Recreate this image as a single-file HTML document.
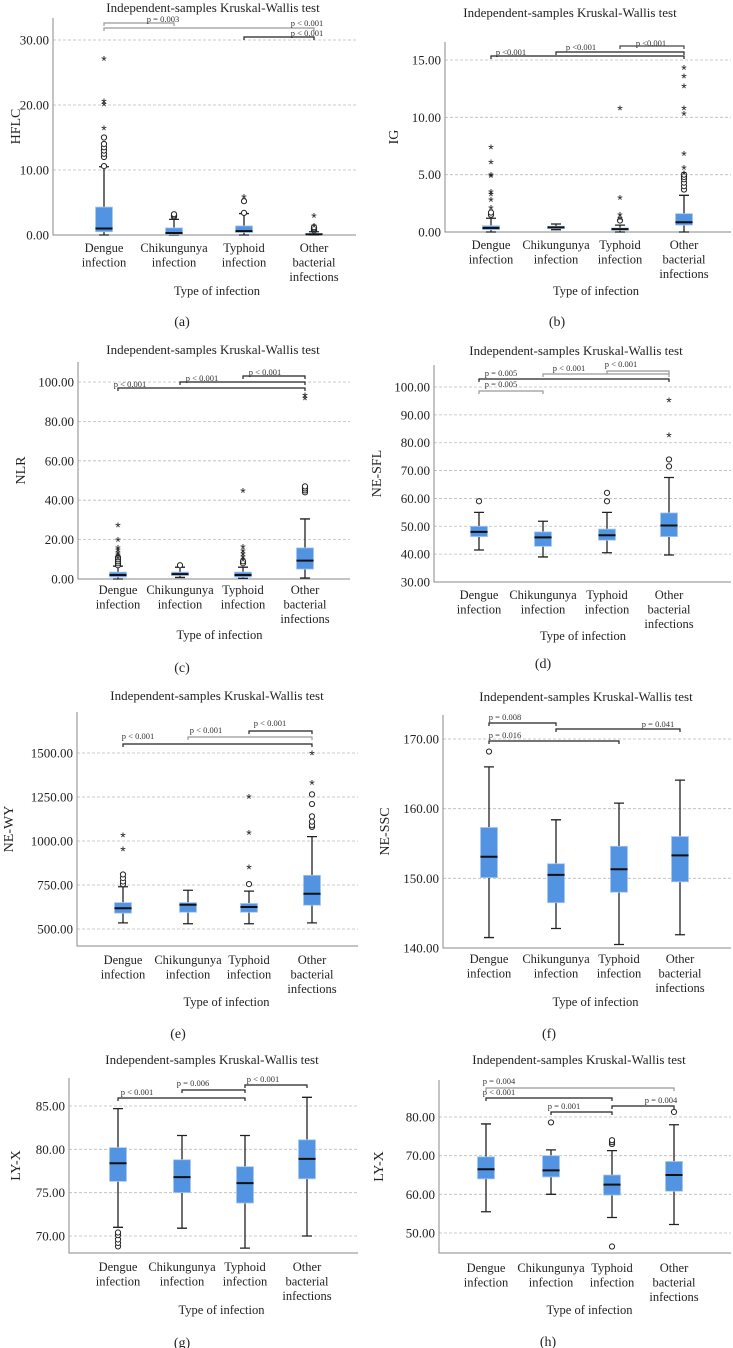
<!DOCTYPE html>
<html><head><meta charset="utf-8"><style>
html,body{margin:0;padding:0;background:#fff;}
svg{display:block;font-family:"Liberation Serif",serif;}
</style></head><body>
<svg id="fig" width="733" height="1348" viewBox="0 0 733 1348"></svg>
<script>
// ---- data: categories ----
const categories = [["Dengue","infection"],["Chikungunya","infection"],["Typhoid","infection"],["Other","bacterial","infections"]];
// (a) HFLC
const aLow=[0,0,0,0], aQ1=[0.5,0.1,0.4,0.0], aMed=[1.0,0.3,0.6,0.1], aQ3=[4.3,1.1,1.4,0.25], aHigh=[10.5,2.4,3.3,0.5];
const aCircles=[[0,10.6],[0,12],[0,12.5],[0,13],[0,13.5],[0,14],[0,15],[1,2.8],[1,3.0],[1,3.2],[2,3.4],[2,5.2],[3,0.7],[3,0.9],[3,1.0],[3,1.2]];
const aStars=[[0,16.8],[0,20.5],[0,20.9],[0,27.5],[2,6.2],[3,1.8],[3,3.3]];
const aTicks=[0,10,20,30];
// (b) IG
const bLow=[0,0.2,0,0], bQ1=[0.2,0.3,0.15,0.6], bMed=[0.35,0.4,0.25,0.85], bQ3=[0.55,0.5,0.35,1.6], bHigh=[1.2,0.7,0.6,3.2];
const bCircles=[[0,1.5],[0,1.7],[2,1.0],[3,3.7],[3,4.0],[3,4.3],[3,4.6],[3,4.8],[3,5.0]];
const bStars=[[0,2.3],[0,3.0],[0,3.5],[0,3.7],[0,5.1],[0,5.2],[0,6.3],[0,7.6],[2,1.4],[2,1.7],[2,3.2],[2,11.0],[3,5.3],[3,5.8],[3,7.0],[3,10.5],[3,11.0],[3,12.9],[3,13.8],[3,14.5]];
const bTicks=[0,5,10,15];
// (c) NLR
const cLow=[0,0.8,0.3,0.5], cQ1=[1,1.8,1,5], cMed=[2,2.5,2,9.3], cQ3=[3.5,3.5,3.5,15.8], cHigh=[6.5,6,6,30.5];
const cCircles=[[0,7],[0,8],[0,9],[0,10],[0,11],[1,7],[2,8],[2,9],[3,44],[3,45],[3,46],[3,47]];
const cStars=[[0,12],[0,13.5],[0,14.5],[0,16],[0,17],[0,21],[0,28.5],[2,11],[2,12.5],[2,14],[2,15.5],[2,17.5],[2,46],[3,93],[3,94.5]];
const cTicks=[0,20,40,60,80,100];
// (d) NE-SFL
const dLow=[41.5,39,40.5,39.7], dQ1=[46.3,42.8,45,46.3], dMed=[48,46,46.8,50.3], dQ3=[50,48,49,54.8], dHigh=[55,51.8,55,67.5];
const dCircles=[[0,59],[2,59],[2,62],[3,71.5],[3,74]];
const dStars=[[3,83.5],[3,96]];
const dTicks=[30,40,50,60,70,80,90,100];
// (e) NE-WY
const eLow=[535,530,530,535], eQ1=[590,595,595,635], eMed=[618,638,625,700], eQ3=[650,650,645,805], eHigh=[740,720,715,1025];
const eCircles=[[0,755],[0,770],[0,790],[0,810],[2,755],[3,1080],[3,1090],[3,1110],[3,1140],[3,1210],[3,1265]];
const eStars=[[0,965],[0,1045],[2,865],[2,1060],[2,1265],[3,1345],[3,1510]];
const eTicks=[500,750,1000,1250,1500];
// (f) NE-SSC
const fLow=[141.5,142.8,140.5,141.9], fQ1=[150.1,146.5,148,149.5], fMed=[153.1,150.5,151.3,153.3], fQ3=[157.3,152.1,154.6,156], fHigh=[166,158.4,160.8,164.1];
const fCircles=[[0,168.2]];
const fStars=[];
const fTicks=[140,150,160,170];
// (g) LY-X
const gLow=[71,70.9,68.6,70], gQ1=[76.3,75,73.8,76.6], gMed=[78.4,76.8,76.1,78.9], gQ3=[80.2,78.8,78,81.1], gHigh=[84.7,81.6,81.6,86];
const gCircles=[[0,68.8],[0,69.2],[0,69.6],[0,70.1],[0,70.4]];
const gStars=[];
const gTicks=[70,75,80,85];
// (h) LY-X
const hLow=[55.5,60,54,52.2], hQ1=[64,64.5,59.8,60.8], hMed=[66.5,66.2,62.5,65], hQ3=[69.7,70,65,68.5], hHigh=[78.2,71.5,71.3,78];
const hCircles=[[1,78.6],[2,73],[2,73.5],[2,74],[2,46.5],[3,81.3]];
const hStars=[];
const hTicks=[50,60,70,80];

const NS="http://www.w3.org/2000/svg";
const svg=document.getElementById('fig');
function mk(tag,attrs,parent){const e=document.createElementNS(NS,tag);for(const k in attrs)e.setAttribute(k,attrs[k]);(parent||svg).appendChild(e);return e;}

const panels=[
 {id:'a',ylabel:'HFLC',axX:53,right:356,top:18,bottom:235,v0:0,p0:235,v1:30,p1:40,cx:[104,174,244,314],low:aLow,q1:aQ1,med:aMed,q3:aQ3,high:aHigh,circ:aCircles,stars:aStars,ticks:aTicks,
  title:[213,8],ylab:20,catY:248,xt:291,letter:[182,321],
  br:[[0,1,23,163,19,'p = 0.003','#999'],[0,3,28,307,23,'p < 0.001','#999'],[2,3,37,307,33,'p < 0.001','#222']]},
 {id:'b',ylabel:'IG',axX:445,right:731,top:42,bottom:232,v0:0,p0:232,v1:15,p1:60,cx:[491,556,620,684],low:bLow,q1:bQ1,med:bMed,q3:bQ3,high:bHigh,circ:bCircles,stars:bStars,ticks:bTicks,
  title:[570,13],ylab:398,catY:245,xt:291,letter:[557,321],
  br:[[0,3,56,511,52,'p <0.001','#222'],[1,3,52,581,47,'p <0.001','#222'],[2,3,46,651,43,'p <0.001','#444']]},
 {id:'c',ylabel:'NLR',axX:78,right:350,top:362,bottom:579,v0:0,p0:579,v1:100,p1:382,cx:[118,180,243,305],low:cLow,q1:cQ1,med:cMed,q3:cQ3,high:cHigh,circ:cCircles,stars:cStars,ticks:cTicks,
  title:[213,350],ylab:25,catY:590,xt:635,letter:[182,667],
  br:[[0,3,388,130,384,'p < 0.001','#222'],[1,3,382,202,378,'p < 0.001','#222'],[2,3,376,265,372,'p < 0.001','#222']]},
 {id:'d',ylabel:'NE-SFL',axX:434,right:731,top:365,bottom:582,v0:30,p0:582,v1:100,p1:387,cx:[479,543,607,669],low:dLow,q1:dQ1,med:dMed,q3:dQ3,high:dHigh,circ:dCircles,stars:dStars,ticks:dTicks,
  title:[576,351],ylab:381,catY:595,xt:636,letter:[543,663],
  br:[[0,1,391,501,384,'p = 0.005','#999'],[0,3,379,501,373,'p = 0.005','#222'],[1,3,374,569,368,'p < 0.001','#999'],[2,3,371,621,364,'p < 0.001','#999']]},
 {id:'e',ylabel:'NE-WY',axX:77,right:358,top:712,bottom:946,v0:500,p0:929,v1:1500,p1:753,cx:[123,188,249,312],low:eLow,q1:eQ1,med:eMed,q3:eQ3,high:eHigh,circ:eCircles,stars:eStars,ticks:eTicks,
  title:[217,696],ylab:13,catY:960,xt:1002,letter:[178,1033],
  br:[[0,3,744,138,736,'p < 0.001','#222'],[1,3,737,206,730,'p < 0.001','#999'],[2,3,731,270,723,'p < 0.001','#222']]},
 {id:'f',ylabel:'NE-SSC',axX:443,right:731,top:715,bottom:948,v0:140,p0:948,v1:170,p1:739,cx:[489,556,619,680],low:fLow,q1:fQ1,med:fMed,q3:fQ3,high:fHigh,circ:fCircles,stars:fStars,ticks:fTicks,
  title:[586,697],ylab:389,catY:959,xt:1002,letter:[549,1033],
  br:[[0,1,723,505,717,'p = 0.008','#222'],[0,2,741,505,735,'p = 0.016','#222'],[1,3,729,658,724,'p = 0.041','#222']]},
 {id:'g',ylabel:'LY-X',axX:69,right:358,top:1078,bottom:1253,v0:70,p0:1236,v1:85,p1:1106,cx:[118,182,245,307],low:gLow,q1:gQ1,med:gMed,q3:gQ3,high:gHigh,circ:gCircles,stars:gStars,ticks:gTicks,
  title:[212,1060],ylab:20,catY:1267,xt:1310,letter:[182,1342],
  br:[[0,2,1098,137,1092,'p < 0.001','#222'],[1,2,1090,193,1083,'p = 0.006','#222'],[2,3,1085,263,1079,'p < 0.001','#222']]},
 {id:'h',ylabel:'LY-X',axX:439,right:731,top:1080,bottom:1253,v0:80,p0:1117,v1:50,p1:1233,cx:[486,551,612,674],low:hLow,q1:hQ1,med:hMed,q3:hQ3,high:hHigh,circ:hCircles,stars:hStars,ticks:hTicks,
  title:[579,1060],ylab:383,catY:1268,xt:1310,letter:[548,1341],
  br:[[0,3,1088,499,1081,'p = 0.004','#999'],[0,2,1098,499,1092,'p < 0.001','#222'],[1,2,1112,564,1106,'p = 0.001','#222'],[2,3,1106,661,1100,'p = 0.004','#222']]}
];

panels.forEach(P=>{
  const g=mk('g',{});
  
  
  const y=v=>P.p0+(v-P.v0)*(P.p1-P.p0)/(P.v1-P.v0);
  const t=mk('text',{x:P.title[0],y:P.title[1]+4,'text-anchor':'middle','font-size':'13',fill:'#222'},g);
  t.textContent='Independent-samples Kruskal-Wallis test';
  
  
  P.ticks.forEach(v=>{
    const ln=mk('line',{x1:P.axX,x2:P.right,y1:y(v),y2:y(v),stroke:'#bbb','stroke-width':0.8,'stroke-dasharray':'3,2'},g);
    
    
    const tl=mk('text',{x:P.axX-4,y:y(v)+4.5,'text-anchor':'end','font-size':'13',fill:'#222'},g);
    tl.textContent=v.toFixed(2);
    
    
  });
  const ax=mk('path',{d:`M${P.axX},${P.top}V${P.bottom}H${P.right}`,fill:'none',stroke:'#888','stroke-width':1},g);
  
  
  const yl=mk('text',{x:P.ylab,y:(P.top+P.bottom)/2,'text-anchor':'middle','font-size':'14',fill:'#222',transform:`rotate(-90 ${P.ylab} ${(P.top+P.bottom)/2})`},g);
  yl.textContent=P.ylabel;
  
  
  categories.forEach((c,i)=>{
    c.forEach((s,k)=>{
      const cl=mk('text',{x:P.cx[i],y:P.catY+k*14.5+4,'text-anchor':'middle','font-size':'12.5',fill:'#222'},g);
      cl.textContent=s;
      
      
    });
  });
  const xt=mk('text',{x:(P.cx[1]+P.cx[2])/2+8,y:P.xt+4,'text-anchor':'middle','font-size':'12.5',fill:'#222'},g);
  xt.textContent='Type of infection';
  
  
  const lt=mk('text',{x:P.letter[0],y:P.letter[1]+5,'text-anchor':'middle','font-size':'14',fill:'#222'},g);
  lt.textContent='('+P.id+')';
  
  
  P.cx.forEach((cx,i)=>{
    const bw=17;
    const wh=mk('path',{d:`M${cx},${y(P.low[i])}V${y(P.high[i])}M${cx-5},${y(P.low[i])}H${cx+5}M${cx-5},${y(P.high[i])}H${cx+5}`,stroke:'#222','stroke-width':1.3,fill:'none'},g);
    
    
    const top=y(P.q3[i]),bot=y(P.q1[i]);
    const r=mk('rect',{x:cx-bw/2,y:Math.min(top,bot),width:bw,height:Math.max(1.5,Math.abs(bot-top)),fill:'#5294e2',stroke:'#a9c9f1','stroke-width':0.8},g);
    
    
    const md=mk('line',{x1:cx-bw/2,x2:cx+bw/2,y1:y(P.med[i]),y2:y(P.med[i]),stroke:'#111','stroke-width':2},g);
    
    
  });
  P.circ.forEach(([i,v])=>{
    const c=mk('circle',{cx:P.cx[i],cy:y(v),r:2.6,fill:'#fff',stroke:'#222','stroke-width':1},g);
    
    
  });
  P.stars.forEach(([i,v])=>{
    const s=mk('text',{x:P.cx[i],y:y(v)+9,'text-anchor':'middle','font-size':'14',fill:'#222','font-family':'Liberation Sans, sans-serif'},g);
    s.textContent='*';
    
    
  });
  P.br.forEach(([f,to,by,lx,ly,txt,col])=>{
    const x1=P.cx[f],x2=P.cx[to];
    const b=mk('path',{d:`M${x1},${by+3}V${by}H${x2}V${by+3}`,fill:'none',stroke:col,'stroke-width':1.2},g);
    
    
    const bt=mk('text',{x:lx,y:ly+3,'text-anchor':'middle','font-size':'8.5',fill:'#333'},g);
    bt.textContent=txt;
    
    
  });
});
</script>
</body></html>
